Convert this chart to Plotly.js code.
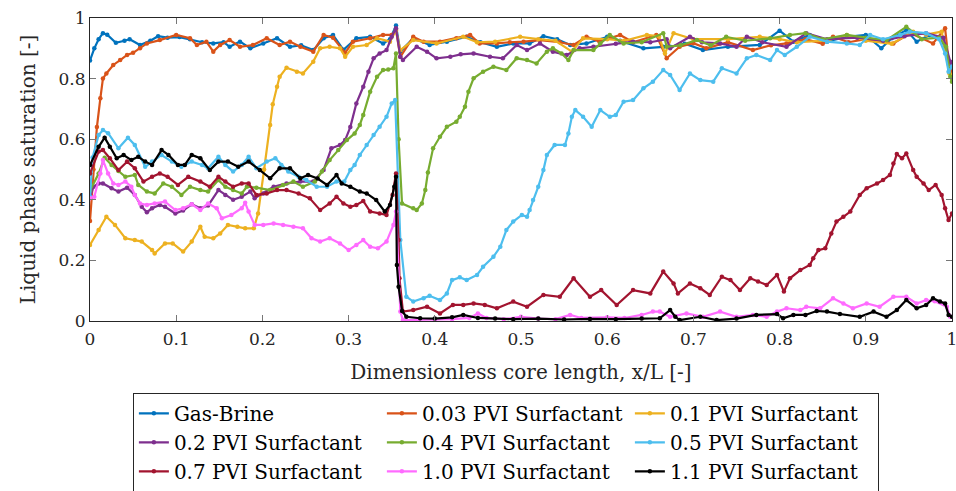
<!DOCTYPE html>
<html><head><meta charset="utf-8">
<script src="https://cdn.plot.ly/plotly-3.0.1.min.js"></script>
<style>html,body{margin:0;padding:0;background:#fff}#chart{width:956px;height:491px}</style>
</head><body><div id="chart"></div>
<script>
const seriesNames = ["Gas-Brine","0.03 PVI Surfactant","0.1 PVI Surfactant","0.2 PVI Surfactant","0.4 PVI Surfactant","0.5 PVI Surfactant","0.7 PVI Surfactant","1.0 PVI Surfactant","1.1 PVI Surfactant"];
const seriesColors = ["#0072BD","#D95319","#EDB120","#7E2F8E","#77AC30","#4DBEEE","#A2142F","#FF6BFF","#000000"];
const tickVals = [0,0.1,0.2,0.3,0.4,0.5,0.6,0.7,0.8,0.9,1];
const tickText = ["0","0.1","0.2","0.3","0.4","0.5","0.6","0.7","0.8","0.9","1"];
const yTickVals = [0,0.2,0.4,0.6,0.8,1];
const yTickText = ["0","0.2","0.4","0.6","0.8","1"];

const gbX = [0,0.005,0.01,0.015,0.02,0.03,0.04,0.046,0.058,0.07,0.079,0.09,0.104,0.116,0.13,0.143,0.155,0.162,0.174,0.186,0.201,0.217,0.232,0.245,0.259,0.271,0.282,0.294,0.309,0.325,0.34,0.348,0.355,0.36,0.375,0.394,0.414,0.437,0.453,0.472,0.491,0.51,0.526,0.542,0.557,0.576,0.6,0.615,0.642,0.665,0.673,0.69,0.711,0.74,0.777,0.8,0.816,0.835,0.855,0.878,0.9,0.918,0.93,0.947,0.959,0.974,0.988,0.994,0.997,1];
const gbY = [0.86,0.9,0.93,0.95,0.945,0.918,0.925,0.93,0.911,0.925,0.94,0.935,0.937,0.93,0.92,0.916,0.92,0.905,0.922,0.9,0.916,0.933,0.905,0.91,0.894,0.933,0.944,0.895,0.933,0.938,0.916,0.93,0.975,0.889,0.933,0.911,0.922,0.938,0.92,0.905,0.916,0.916,0.94,0.93,0.911,0.916,0.938,0.925,0.9,0.905,0.905,0.915,0.894,0.905,0.911,0.958,0.922,0.944,0.922,0.938,0.944,0.9,0.933,0.96,0.922,0.944,0.93,0.883,0.83,0.84];

const s003X = [0,0.004,0.008,0.012,0.015,0.019,0.027,0.035,0.043,0.05,0.058,0.066,0.081,0.1,0.116,0.124,0.135,0.143,0.151,0.162,0.174,0.189,0.205,0.22,0.232,0.244,0.259,0.271,0.282,0.296,0.305,0.325,0.34,0.35,0.355,0.36,0.375,0.387,0.406,0.425,0.441,0.452,0.472,0.487,0.503,0.522,0.545,0.561,0.576,0.591,0.615,0.63,0.657,0.669,0.684,0.7,0.715,0.74,0.769,0.79,0.808,0.83,0.85,0.862,0.88,0.9,0.932,0.952,0.978,0.992,0.997,1];
const s003Y = [0.33,0.5,0.64,0.735,0.8,0.817,0.845,0.861,0.878,0.885,0.9,0.916,0.927,0.944,0.933,0.911,0.922,0.889,0.911,0.927,0.905,0.911,0.933,0.911,0.922,0.905,0.889,0.944,0.935,0.885,0.922,0.933,0.944,0.944,0.96,0.872,0.938,0.922,0.922,0.933,0.944,0.916,0.916,0.92,0.922,0.927,0.92,0.911,0.938,0.922,0.944,0.92,0.944,0.867,0.905,0.917,0.9,0.92,0.894,0.91,0.916,0.93,0.915,0.938,0.92,0.93,0.916,0.95,0.916,0.966,0.834,0.82];

const s01X = [0,0.01,0.019,0.029,0.041,0.052,0.06,0.072,0.075,0.087,0.096,0.108,0.118,0.128,0.133,0.143,0.151,0.16,0.171,0.18,0.19,0.195,0.202,0.209,0.212,0.217,0.22,0.228,0.24,0.247,0.259,0.267,0.278,0.29,0.296,0.305,0.321,0.333,0.348,0.355,0.36,0.375,0.402,0.433,0.449,0.47,0.499,0.52,0.54,0.559,0.572,0.6,0.62,0.646,0.66,0.667,0.677,0.7,0.74,0.777,0.8,0.82,0.855,0.878,0.9,0.93,0.955,0.97,0.988,0.997,1];
const s01Y = [0.251,0.3,0.344,0.317,0.273,0.267,0.262,0.234,0.223,0.256,0.256,0.229,0.262,0.311,0.278,0.273,0.289,0.317,0.311,0.306,0.306,0.355,0.5,0.647,0.715,0.773,0.806,0.836,0.823,0.817,0.856,0.9,0.905,0.9,0.872,0.905,0.911,0.933,0.922,0.96,0.894,0.927,0.916,0.938,0.92,0.922,0.938,0.93,0.925,0.889,0.933,0.93,0.925,0.944,0.94,0.883,0.95,0.93,0.93,0.938,0.93,0.92,0.925,0.944,0.925,0.915,0.955,0.945,0.955,0.817,0.81];

const s02X = [0,0.004,0.01,0.015,0.025,0.033,0.043,0.052,0.06,0.066,0.072,0.081,0.087,0.099,0.108,0.118,0.128,0.137,0.149,0.157,0.166,0.176,0.186,0.191,0.201,0.213,0.228,0.244,0.259,0.271,0.28,0.29,0.296,0.302,0.309,0.317,0.323,0.329,0.336,0.344,0.35,0.355,0.36,0.363,0.379,0.391,0.402,0.418,0.43,0.445,0.464,0.479,0.495,0.507,0.522,0.537,0.553,0.568,0.584,0.61,0.63,0.65,0.669,0.673,0.696,0.71,0.731,0.75,0.762,0.78,0.808,0.831,0.855,0.89,0.92,0.945,0.97,0.99,0.998,1];
const s02Y = [0.41,0.443,0.454,0.454,0.438,0.427,0.44,0.416,0.377,0.359,0.372,0.383,0.377,0.355,0.365,0.385,0.372,0.381,0.432,0.416,0.4,0.41,0.427,0.405,0.421,0.443,0.454,0.46,0.46,0.498,0.57,0.581,0.597,0.64,0.718,0.773,0.823,0.867,0.883,0.894,0.938,0.966,0.872,0.861,0.905,0.889,0.867,0.872,0.88,0.883,0.872,0.867,0.911,0.894,0.916,0.889,0.878,0.9,0.905,0.915,0.922,0.92,0.93,0.9,0.938,0.92,0.916,0.905,0.938,0.92,0.905,0.95,0.93,0.935,0.925,0.94,0.95,0.935,0.856,0.85];

const s04X = [0,0.01,0.017,0.025,0.033,0.041,0.052,0.056,0.066,0.075,0.085,0.095,0.106,0.116,0.128,0.137,0.149,0.157,0.166,0.176,0.182,0.193,0.209,0.224,0.236,0.247,0.261,0.269,0.278,0.288,0.298,0.307,0.313,0.317,0.325,0.333,0.34,0.346,0.352,0.355,0.358,0.362,0.375,0.379,0.385,0.389,0.392,0.398,0.406,0.414,0.425,0.429,0.435,0.439,0.445,0.456,0.468,0.483,0.495,0.507,0.518,0.53,0.537,0.547,0.555,0.561,0.584,0.592,0.603,0.619,0.64,0.665,0.669,0.685,0.704,0.72,0.738,0.76,0.789,0.812,0.83,0.85,0.878,0.9,0.924,0.947,0.965,0.985,0.993,0.998,1];
const s04Y = [0.43,0.487,0.539,0.515,0.495,0.476,0.482,0.449,0.427,0.421,0.454,0.443,0.416,0.443,0.432,0.427,0.465,0.443,0.432,0.421,0.443,0.44,0.432,0.449,0.46,0.443,0.46,0.493,0.531,0.564,0.597,0.619,0.647,0.68,0.757,0.806,0.828,0.83,0.834,0.883,0.6,0.388,0.372,0.366,0.388,0.432,0.49,0.57,0.608,0.641,0.658,0.674,0.707,0.757,0.801,0.823,0.839,0.828,0.867,0.861,0.85,0.889,0.9,0.883,0.861,0.894,0.894,0.916,0.944,0.916,0.92,0.95,0.905,0.91,0.927,0.91,0.938,0.925,0.933,0.944,0.95,0.93,0.944,0.935,0.927,0.971,0.93,0.935,0.905,0.806,0.79];

const s05X = [0,0.003,0.01,0.015,0.021,0.033,0.044,0.052,0.064,0.072,0.083,0.095,0.106,0.118,0.13,0.137,0.149,0.157,0.166,0.176,0.184,0.193,0.205,0.215,0.222,0.23,0.242,0.251,0.263,0.275,0.286,0.295,0.302,0.307,0.313,0.321,0.329,0.336,0.344,0.35,0.354,0.36,0.367,0.375,0.387,0.394,0.406,0.414,0.42,0.429,0.437,0.449,0.456,0.468,0.476,0.483,0.491,0.501,0.507,0.51,0.514,0.52,0.526,0.53,0.539,0.551,0.555,0.559,0.563,0.572,0.582,0.592,0.603,0.61,0.619,0.63,0.642,0.653,0.665,0.673,0.684,0.696,0.708,0.723,0.733,0.75,0.762,0.773,0.789,0.797,0.806,0.82,0.835,0.855,0.878,0.893,0.905,0.92,0.94,0.951,0.97,0.985,0.992,0.996,1];
const s05Y = [0.41,0.54,0.614,0.63,0.62,0.57,0.605,0.581,0.509,0.526,0.548,0.526,0.509,0.526,0.515,0.504,0.542,0.515,0.493,0.515,0.542,0.504,0.526,0.537,0.515,0.493,0.476,0.465,0.443,0.443,0.46,0.46,0.498,0.515,0.548,0.581,0.614,0.641,0.674,0.718,0.729,0.267,0.08,0.064,0.075,0.083,0.069,0.091,0.135,0.144,0.135,0.152,0.179,0.212,0.245,0.3,0.328,0.35,0.344,0.366,0.399,0.443,0.498,0.548,0.581,0.581,0.619,0.674,0.696,0.674,0.641,0.696,0.674,0.68,0.724,0.729,0.768,0.79,0.828,0.812,0.762,0.817,0.795,0.79,0.834,0.817,0.867,0.878,0.861,0.894,0.878,0.905,0.938,0.922,0.916,0.911,0.944,0.93,0.944,0.955,0.95,0.93,0.883,0.823,0.84];

const s07X = [0,0.01,0.015,0.023,0.033,0.043,0.052,0.062,0.072,0.081,0.09,0.102,0.114,0.128,0.139,0.149,0.157,0.166,0.176,0.184,0.193,0.205,0.217,0.228,0.242,0.255,0.267,0.278,0.286,0.294,0.302,0.309,0.317,0.325,0.336,0.344,0.351,0.355,0.358,0.359,0.363,0.375,0.391,0.406,0.421,0.433,0.445,0.458,0.472,0.491,0.507,0.526,0.545,0.561,0.58,0.593,0.611,0.63,0.65,0.665,0.677,0.682,0.696,0.708,0.719,0.733,0.743,0.754,0.766,0.775,0.785,0.797,0.805,0.812,0.824,0.835,0.839,0.845,0.853,0.86,0.866,0.874,0.882,0.893,0.901,0.913,0.92,0.928,0.932,0.936,0.942,0.947,0.955,0.959,0.967,0.973,0.981,0.988,0.992,0.996,1];
const s07Y = [0.487,0.559,0.564,0.537,0.498,0.526,0.504,0.46,0.476,0.487,0.476,0.449,0.476,0.46,0.443,0.476,0.46,0.443,0.454,0.454,0.416,0.421,0.432,0.432,0.421,0.405,0.366,0.388,0.41,0.388,0.377,0.383,0.396,0.361,0.355,0.35,0.416,0.487,0.267,0.141,0.031,0.036,0.047,0.025,0.053,0.053,0.058,0.053,0.042,0.064,0.047,0.086,0.08,0.141,0.08,0.102,0.053,0.102,0.091,0.163,0.124,0.091,0.124,0.108,0.086,0.146,0.135,0.102,0.141,0.13,0.119,0.152,0.097,0.141,0.168,0.185,0.207,0.234,0.24,0.289,0.328,0.344,0.361,0.416,0.438,0.454,0.465,0.482,0.52,0.551,0.537,0.553,0.498,0.476,0.454,0.432,0.449,0.416,0.372,0.333,0.355];

const s10X = [0,0.005,0.012,0.015,0.021,0.027,0.033,0.041,0.048,0.052,0.058,0.066,0.075,0.087,0.099,0.108,0.118,0.128,0.137,0.147,0.153,0.164,0.176,0.18,0.184,0.191,0.201,0.213,0.224,0.236,0.247,0.257,0.267,0.278,0.29,0.3,0.309,0.317,0.325,0.334,0.344,0.352,0.355,0.36,0.363,0.38,0.4,0.42,0.44,0.45,0.46,0.48,0.5,0.52,0.54,0.557,0.57,0.6,0.62,0.64,0.653,0.661,0.673,0.692,0.711,0.731,0.75,0.769,0.785,0.797,0.808,0.824,0.831,0.847,0.862,0.874,0.885,0.901,0.916,0.932,0.947,0.959,0.97,0.98,0.994,0.998];
const s10Y = [0.405,0.41,0.487,0.531,0.487,0.454,0.449,0.46,0.443,0.416,0.388,0.383,0.388,0.394,0.366,0.372,0.385,0.366,0.388,0.372,0.339,0.35,0.372,0.39,0.361,0.317,0.317,0.322,0.317,0.311,0.306,0.273,0.262,0.273,0.256,0.234,0.251,0.267,0.245,0.24,0.262,0.317,0.361,0.031,0.003,0.004,0.003,0.006,0.01,0.025,0.01,0.006,0.014,0.008,0.006,0.02,0.01,0.012,0.01,0.02,0.031,0.031,0.014,0.025,0.014,0.031,0.014,0.02,0.014,0.031,0.042,0.036,0.047,0.042,0.075,0.058,0.042,0.058,0.047,0.08,0.08,0.058,0.069,0.065,0.047,0.014];

const s11X = [0,0.01,0.017,0.023,0.031,0.039,0.048,0.056,0.064,0.072,0.083,0.091,0.102,0.11,0.118,0.128,0.139,0.149,0.16,0.172,0.184,0.197,0.209,0.22,0.232,0.244,0.253,0.264,0.275,0.286,0.292,0.302,0.313,0.321,0.332,0.342,0.348,0.353,0.355,0.356,0.358,0.362,0.367,0.383,0.4,0.42,0.433,0.45,0.47,0.491,0.52,0.55,0.58,0.61,0.64,0.661,0.673,0.679,0.684,0.708,0.727,0.75,0.773,0.797,0.804,0.816,0.83,0.843,0.855,0.87,0.893,0.909,0.924,0.936,0.947,0.959,0.97,0.978,0.986,0.992,0.996,1];
const s11Y = [0.515,0.575,0.605,0.575,0.537,0.548,0.531,0.542,0.526,0.515,0.564,0.548,0.515,0.515,0.548,0.537,0.498,0.526,0.526,0.509,0.526,0.498,0.471,0.504,0.504,0.471,0.482,0.47,0.449,0.482,0.454,0.443,0.427,0.421,0.399,0.361,0.383,0.443,0.476,0.185,0.113,0.033,0.014,0.009,0.008,0.012,0.02,0.01,0.008,0.006,0.008,0.005,0.007,0.006,0.008,0.009,0.036,0.014,0.003,0.014,0.003,0.008,0.02,0.023,0.009,0.02,0.02,0.033,0.031,0.023,0.014,0.031,0.014,0.036,0.069,0.042,0.053,0.075,0.064,0.058,0.02,0.014];

const xs = [gbX,s003X,s01X,s02X,s04X,s05X,s07X,s10X,s11X];
const ys = [gbY,s003Y,s01Y,s02Y,s04Y,s05Y,s07Y,s10Y,s11Y];

const font = "DejaVu Serif, Liberation Serif, serif";
const txt = '#262626';
const traces = seriesNames.map((n,i)=>({
  type:'scatter', mode:'lines+markers', name:n, x:xs[i], y:ys[i],
  line:{color:seriesColors[i], width:2.2},
  marker:{color:seriesColors[i], size:4.5}
}));

const layout = {
  width:956, height:491,
  margin:{l:90, r:4, t:18, b:170},
  paper_bgcolor:'#fff', plot_bgcolor:'#fff',
  font:{family:font, size:18, color:txt},
  showlegend:true,
  xaxis:{range:[0,1], tickvals:tickVals, ticktext:tickText, ticks:'inside', ticklen:6, tickcolor:'#777',
    showline:true, mirror:'ticks', linecolor:txt, linewidth:1, showgrid:false, zeroline:false,
    ticklabeloverflow:'allow', ticklabelstandoff:3,
    tickfont:{family:font, size:17, color:txt},
    title:{text:'Dimensionless core length, x/L [-]', font:{family:font, size:20, color:txt}, standoff:16}},
  yaxis:{range:[0,1], tickvals:yTickVals, ticktext:yTickText, ticks:'inside', ticklen:6, tickcolor:'#777',
    showline:true, mirror:'ticks', linecolor:txt, linewidth:1, showgrid:false, zeroline:false,
    ticklabeloverflow:'allow',
    tickfont:{family:font, size:17, color:txt},
    title:{text:'Liquid phase saturation [-]', font:{family:font, size:20, color:txt}, standoff:17}},
  legend:{orientation:'h', xref:'container', yref:'container', x:0.139, xanchor:'left', y:0.2, yanchor:'top',
    entrywidth:203, entrywidthmode:'pixels', bordercolor:txt, borderwidth:1,
    font:{family:font, size:20, color:'#000'}, tracegroupgap:0, itemwidth:30}
};
Plotly.newPlot('chart', traces, layout, {staticPlot:true, displayModeBar:false});
</script></body></html>
